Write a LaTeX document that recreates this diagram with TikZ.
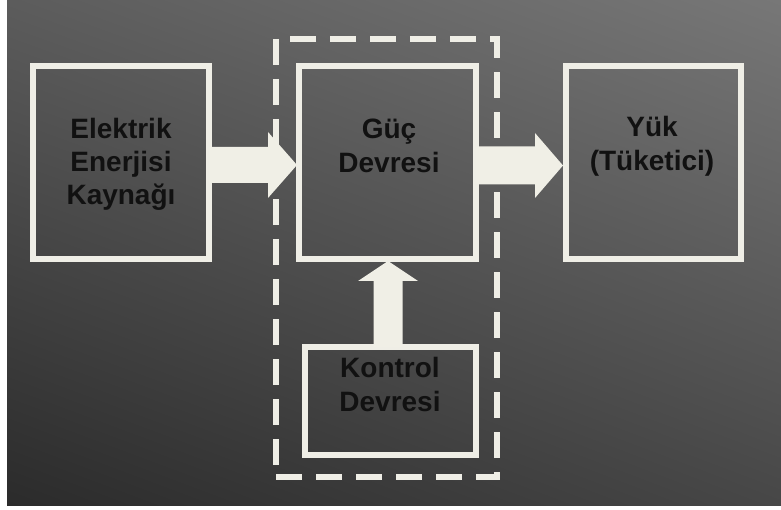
\documentclass[tikz,border=0pt]{standalone}
\usepackage{fontspec}
\setmainfont{Liberation Sans}
\usetikzlibrary{calc,shadings}
\definecolor{linec}{HTML}{EFEEE6}
\definecolor{arrowc}{HTML}{F0EFE6}
\definecolor{txtc}{HTML}{111111}
\definecolor{bgul}{HTML}{5C5C5C}
\definecolor{bgur}{HTML}{777777}
\definecolor{bgll}{HTML}{2B2B2B}
\definecolor{bglr}{HTML}{474747}
\begin{document}
\begin{tikzpicture}[x=1pt,y=-1pt,
  blk/.style={draw=linec, line width=6pt, rectangle, inner sep=0pt},
  dashbox/.style={draw=linec, line width=6pt, rectangle, inner sep=0pt, dash pattern=on 26pt off 14pt},
  lbl/.style={inner sep=0pt, align=center, text=txtc, anchor=north, font=\fontsize{28}{34}\selectfont\bfseries},
  blockarr/.style={fill=arrowc, draw=none}]
\useasboundingbox (0,0) rectangle (781,510);
\fill[white] (0,0) rectangle (781,510);
\shade[upper left=bgul, upper right=bgur, lower left=bgll, lower right=bglr] (7,0) rectangle (781,505);

% dashed group box
\node[dashbox, minimum width=221pt, minimum height=438pt] (E) at (386.5,258) {};

% boxes
\node[blk, minimum width=176pt, minimum height=193pt] (A) at (121,162.5) {};
\node[blk, minimum width=177pt, minimum height=193pt] (B) at (387.5,162.5) {};
\node[blk, minimum width=175pt, minimum height=193pt] (C) at (653.5,162.5) {};
\node[blk, minimum width=171pt, minimum height=108pt] (D) at (390.5,401) {};

% labels
\node[lbl, font=\fontsize{28}{33}\selectfont\bfseries] (tA) at (121,118) {Elektrik\\Enerjisi\\Kaynağı};
\node[lbl] (tB) at (389,119) {Güç\\Devresi};
\node[lbl] (tC) at (652,116) {Yük\\(Tüketici)};
\node[lbl] (tD) at (390,357) {Kontrol\\Devresi};

% arrow A -> B
\coordinate (abS) at ($(A.east)+(-3,2.5)$);
\coordinate (abT) at ($(B.west)+(1,2.5)$);
\fill[blockarr] ($(abS)+(0,-18)$) -- ($(abT)+(-29,-18)$) -- ($(abT)+(-29,-33)$) -- (abT)
  -- ($(abT)+(-29,33)$) -- ($(abT)+(-29,18)$) -- ($(abS)+(0,18)$) -- cycle;

% arrow B -> C
\coordinate (bcS) at ($(B.east)+(-3,3)$);
\coordinate (bcT) at ($(C.west)+(0,3)$);
\fill[blockarr] ($(bcS)+(0,-19)$) -- ($(bcT)+(-28,-19)$) -- ($(bcT)+(-28,-32.5)$) -- (bcT)
  -- ($(bcT)+(-28,32.5)$) -- ($(bcT)+(-28,19)$) -- ($(bcS)+(0,19)$) -- cycle;

% arrow D -> B
\coordinate (dbS) at ($(D.north)+(-2.5,3)$);
\coordinate (dbT) at ($(B.south)+(0.5,-1)$);
\fill[blockarr] ($(dbS)+(-14.5,0)$) -- ($(dbT)+(-14.5,20)$) -- ($(dbT)+(-30,20)$) -- (dbT)
  -- ($(dbT)+(30,20)$) -- ($(dbT)+(14.5,20)$) -- ($(dbS)+(14.5,0)$) -- cycle;
\end{tikzpicture}
\end{document}
